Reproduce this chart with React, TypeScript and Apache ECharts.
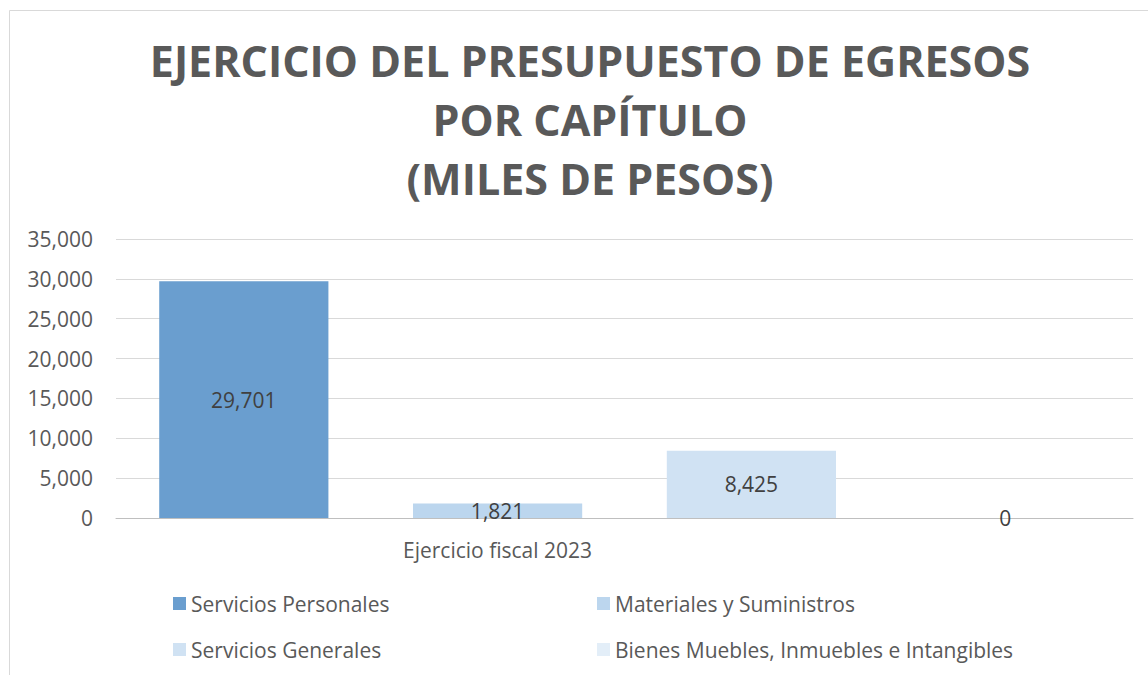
import React, { useEffect, useRef } from "react";
import * as echarts from "echarts";

const categories = ["Ejercicio fiscal 2023"];
const seriesNames = [
  "Servicios Personales",
  "Materiales y Suministros",
  "Servicios Generales",
  "Bienes Muebles, Inmuebles e Intangibles",
];
const seriesValues = [[29701], [1821], [8425], [0]];
const seriesColors = ["#6a9ecf", "#bcd6ee", "#d0e2f3", "#e3eef8"];
const yTicks = { min: 0, max: 35000, interval: 5000 };

const FONT = "'Open Sans', 'Noto Sans', sans-serif";
const fmt = (v: number) => Number(v).toLocaleString("en-US");

export default function App() {
  const ref = useRef<HTMLDivElement>(null);
  useEffect(() => {
    if (!ref.current) return;
    const chart = echarts.init(ref.current, undefined, { renderer: "svg" });
    const legendPos = [
      { left: 168, top: 588 },
      { left: 592, top: 588 },
      { left: 168, top: 634 },
      { left: 592, top: 634 },
    ];
    chart.setOption({
      animation: false,
      backgroundColor: "#ffffff",
      textStyle: { fontFamily: FONT },
      title: {
        text: "EJERCICIO DEL PRESUPUESTO DE EGRESOS\nPOR CAPÍTULO\n(MILES DE PESOS)",
        left: 585,
        textAlign: "center",
        top: 26,
        textStyle: {
          fontFamily: FONT,
          fontSize: 43,
          fontWeight: "bold",
          color: "#595959",
          lineHeight: 59,
        },
      },
      graphic: [
        {
          type: "rect",
          z: -10,
          shape: { x: 9.5, y: 10.5, width: 1200, height: 700 },
          style: { fill: "none", stroke: "#d9d9d9", lineWidth: 1 },
        },
      ],
      legend: seriesNames.map((name, i) => ({
        data: [name],
        left: legendPos[i].left,
        top: legendPos[i].top,
        itemWidth: 13,
        itemHeight: 13,
        itemGap: 4,
        icon: "rect",
        selectedMode: false,
        textStyle: { fontFamily: FONT, fontSize: 21, color: "#595959", padding: [0, 0, 0, 0] },
      })),
      grid: { left: 116, right: 15, top: 239, bottom: 157, containLabel: false },
      xAxis: {
        type: "category",
        data: categories,
        axisTick: { show: false },
        axisLine: { lineStyle: { color: "#bfbfbf", width: 1 } },
        axisLabel: {
          fontFamily: FONT,
          fontSize: 21,
          color: "#595959",
          margin: 21,
          padding: [0, 254, 0, 0],
        },
      },
      yAxis: {
        type: "value",
        min: yTicks.min,
        max: yTicks.max,
        interval: yTicks.interval,
        axisLine: { show: false },
        axisTick: { show: false },
        splitLine: { lineStyle: { color: "#d9d9d9", width: 1 } },
        axisLabel: {
          fontFamily: FONT,
          fontSize: 21,
          color: "#595959",
          margin: 23,
          formatter: (v: number) => fmt(v),
        },
      },
      series: seriesNames.map((name, i) => ({
        name,
        type: "bar",
        data: seriesValues[i],
        barGap: "50%",
        barCategoryGap: "8.5%",
        itemStyle: { color: seriesColors[i] },
        label: {
          show: true,
          position: "inside",
          fontFamily: FONT,
          fontSize: 21,
          color: "#404040",
          formatter: (p: any) => fmt(p.value),
        },
      })),
    });
    return () => chart.dispose();
  }, []);
  return (
    <div
      ref={ref}
      style={{ position: "absolute", left: 0, top: 0, width: 1148, height: 675 }}
    />
  );
}
